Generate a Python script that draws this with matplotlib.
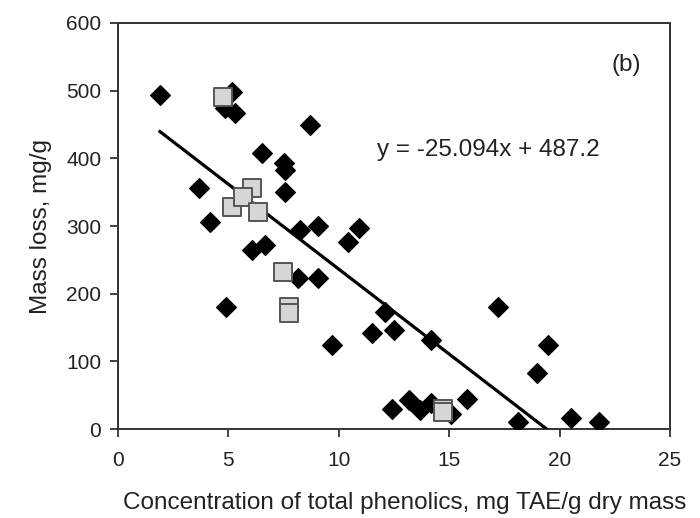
import matplotlib
matplotlib.use("Agg")
import matplotlib.pyplot as plt
import numpy as np

plt.rcParams['font.family'] = ['Liberation Sans', 'DejaVu Sans']

# Black diamonds
dia_x = [1.9, 5.16, 4.85, 5.3, 8.7, 6.5, 7.5, 7.55, 3.67, 7.56, 4.17, 8.24, 9.06,
         6.07, 6.66, 8.15, 9.06, 4.9, 9.7, 10.4, 10.9, 11.5, 12.1, 12.5, 14.2,
         17.2, 19.5, 19.0, 12.4, 13.2, 13.7, 14.2, 15.1, 15.8, 18.1, 20.5, 21.8]
dia_y = [494, 498, 474, 467, 449, 408, 393, 383, 356, 350, 306, 294, 300,
         265, 272, 223, 223, 180, 124, 276, 297, 142, 173, 146, 132,
         180, 124, 83, 30, 43, 28, 38, 22, 44, 10, 16, 10]

# Grey squares
sq_x = [4.76, 6.07, 5.16, 5.66, 6.34, 7.47, 7.75, 7.75, 14.7, 14.7]
sq_y = [490, 356, 328, 343, 321, 232, 180, 172, 30, 25]

slope = -25.094
intercept = 487.2
line_x = [1.9, 19.41]

fig = plt.figure(figsize=(7.0, 5.18), dpi=100)
ax = fig.add_axes([0.1686, 0.1718, 0.957 - 0.1686, 0.9556 - 0.1718])

ax.scatter(dia_x, dia_y, marker='D', s=100, color='black', zorder=3)
lx = np.array(line_x)
ax.plot(lx, slope * lx + intercept, color='black', lw=2.3, zorder=4)
ax.scatter(sq_x, sq_y, marker='s', s=150, facecolor='#d6d6d6',
           edgecolor='#555555', linewidths=1.4, zorder=5)

ax.set_xlim(0, 25)
ax.set_ylim(0, 600)
ax.set_xticks([0, 5, 10, 15, 20, 25])
ax.set_yticks([0, 100, 200, 300, 400, 500, 600])
ax.tick_params(direction='out', length=6, width=1.2, labelsize=15,
               colors='#222222')
ax.tick_params(axis='x', pad=10)
ax.tick_params(axis='y', pad=6)
for sp in ax.spines.values():
    sp.set_linewidth(1.4)
    sp.set_color('#333333')

ax.set_xlabel('Concentration of total phenolics, mg TAE/g dry mass',
              fontsize=17.5, color='#222222', labelpad=16)
ax.xaxis.label.set_x(0.52)
ax.set_ylabel('Mass loss, mg/g', fontsize=17.5, color='#222222', labelpad=10)

ax.text(11.73, 412, 'y = -25.094x + 487.2', fontsize=17.5, color='#222222',
        va='center', ha='left')
ax.text(22.37, 538, '(b)', fontsize=17.5, color='#222222', va='center', ha='left')

fig.savefig('out.png', dpi=100)
